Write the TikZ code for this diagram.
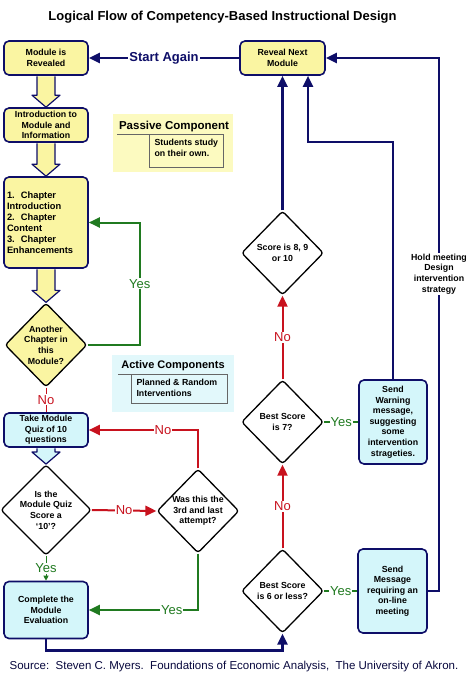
\documentclass[tikz,border=0pt]{standalone}
\usepackage{fontspec}
\setmainfont{Liberation Sans}
\usetikzlibrary{shapes.geometric,arrows.meta,calc}

\definecolor{boxyellow}{RGB}{250,245,162}
\definecolor{boxcyan}{RGB}{212,246,250}
\definecolor{paneyellow}{RGB}{252,250,192}
\definecolor{panecyan}{RGB}{226,248,251}
\definecolor{navyc}{RGB}{14,14,104}
\definecolor{redc}{RGB}{200,18,30}
\definecolor{greenc}{RGB}{32,122,32}

\tikzset{
  box/.style={draw=navyc, line width=1.6pt, rounded corners=5pt, align=center,
    font=\bfseries\fontsize{8.8}{10.6}\selectfont, inner sep=2pt},
  ybox/.style={box, fill=boxyellow},
  cbox/.style={box, fill=boxcyan},
  decision/.style={diamond, draw=black, line width=1.3pt, rounded corners=3pt,
    minimum width=82pt, minimum height=84pt, inner sep=0pt, align=center,
    font=\bfseries\fontsize{8.8}{10.6}\selectfont},
  lbl/.style={fill=white, inner sep=1pt, font=\fontsize{13}{13}\selectfont},
  tip/.style={-{Triangle[length=11pt,width=10pt]}},
  navyline/.style={draw=navyc, line width=2.4pt},
  redline/.style={draw=redc, line width=2pt, text=redc},
  greenline/.style={draw=greenc, line width=2pt, text=greenc}
}

% fat arrow between two stacked boxes
\newcommand{\blockarrow}[3]{%
  \draw[draw=navyc, fill=#3, line width=1.2pt, line join=round]
    ($(#1.south)+(-9,0.5)$) -- ($(#2.north)+(-9,-12)$) -- ($(#2.north)+(-14,-12)$)
    -- (#2.north) -- ($(#2.north)+(14,-12)$) -- ($(#2.north)+(9,-12)$)
    -- ($(#1.south)+(9,0.5)$);}

\begin{document}
\begin{tikzpicture}[x=1pt,y=-1pt]
\fill[white] (0,0) rectangle (474,679);
\useasboundingbox (0,0) rectangle (474,679);

\node (title) at (222.5,17) {\bfseries\fontsize{13}{15}\selectfont Logical Flow of Competency-Based Instructional Design};

% side panels
\fill[paneyellow] (113,114) rectangle (233,172);
\node[font=\bfseries\fontsize{11.5}{13}\selectfont] (passive) at (174,127) {Passive Component};
\draw[black!60, line width=0.8pt] (117,134) -- (223,134) -- (223,167) -- (149,167) -- (149,134);
\node[font=\bfseries\fontsize{8.8}{10.6}\selectfont, align=left, anchor=north west] (passtext) at (151,136) {Students study\\on their own.};

\fill[panecyan] (112,355) rectangle (234,412);
\node[font=\bfseries\fontsize{11}{13}\selectfont] (active) at (173,366) {Active Components};
\draw[black!60, line width=0.8pt] (118,374) -- (227,374) -- (227,403) -- (131,403) -- (131,374);
\node[font=\bfseries\fontsize{8.8}{10.6}\selectfont, align=left, anchor=north west] (acttext) at (133,376) {Planned \& Random\\Interventions};

% left column
\node[ybox, minimum width=84pt, minimum height=34pt] (mrev) at (46,58) {Module is\\Revealed};
\node[ybox, minimum width=84pt, minimum height=34pt] (intro) at (46,125) {Introduction to\\Module and\\Information};
\node[ybox, minimum width=84pt, minimum height=91pt, text width=78pt, align=left,
      font=\bfseries\fontsize{9.3}{11}\selectfont] (chap) at (46,222.5)
  {1.\ \ Chapter\\Introduction\\2.\ \ Chapter\\Content\\3.\ \ Chapter\\Enhancements};
\node[decision, fill=boxyellow] (another) at (46,345) {Another\\Chapter in\\this\\Module?};
\node[cbox, minimum width=84pt, minimum height=34pt] (quiz) at (46,430) {Take Module\\Quiz of 10\\questions};
\node[decision, fill=white] (isten) at (46,510) {Is the\\Module Quiz\\Score a\\`10'?};
\node[decision, fill=white] (last) at (198,511) {Was this the\\3rd and last\\attempt?};
\node[cbox, minimum width=84pt, minimum height=57pt] (complete) at (46,610) {Complete the\\Module\\Evaluation};

% right column
\node[ybox, minimum width=85pt, minimum height=34pt] (reveal) at (282.5,58) {Reveal Next\\Module};
\node[decision, fill=white] (score8) at (282.5,253) {Score is 8, 9\\or 10};
\node[decision, fill=white] (best7) at (282.5,422) {Best Score\\is 7?};
\node[decision, fill=white] (best6) at (282.5,591) {Best Score\\is 6 or less?};
\node[cbox, minimum width=68pt, minimum height=84pt] (sendwarn) at (393,422) {Send\\Warning\\message,\\suggesting\\some\\intervention\\strageties.};
\node[cbox, minimum width=69pt, minimum height=84pt] (sendmsg) at (392.5,591) {Send\\Message\\requiring an\\on-line\\meeting};
\node[fill=white, inner sep=1pt, align=center, font=\bfseries\fontsize{8.8}{10.6}\selectfont] (hold) at (439,274) {Hold meeting\\Design\\intervention\\strategy};
\coordinate (wbend) at (308,142);

% fat arrows
\blockarrow{mrev}{intro}{boxyellow}
\blockarrow{intro}{chap}{boxyellow}
\blockarrow{chap}{another}{boxyellow}
\blockarrow{quiz}{isten}{boxcyan}

% connectors
\draw[navyline, tip] (reveal.west) -- node[lbl, text=navyc, font=\bfseries\fontsize{13}{13}\selectfont] {Start Again} (mrev.east);
\draw[greenline, tip] (another.east) -| node[lbl, pos=0.75] {Yes} ($(chap.east)+(51,0)$) -- (chap.east);
\draw[redline, line width=1pt] (another.south) -- node[lbl, text=redc] {No} (quiz.north);
\draw[redline, tip] (isten.east) -- node[lbl] {No} (last.west);
\draw[redline, tip] (last.north) |- node[lbl, pos=0.66] {No} (quiz.east);
\draw[greenline, tip] (last.south) |- node[lbl, pos=0.62] {Yes} (complete.east);
\draw[greenline, line width=1pt, -{Triangle[length=5pt,width=5pt]}] (isten.south) -- node[lbl] {Yes} (complete.north);
\draw[navyline, tip] (complete.south) -- ++(0,11) -| (best6.south);
\draw[greenline] (best6.east) -- node[lbl] {Yes} (sendmsg.west);
\draw[greenline] (best7.east) -- node[lbl] {Yes} (sendwarn.west);
\draw[redline, tip] (best6.north) -- node[lbl] {No} (best7.south);
\draw[redline, tip] (best7.north) -- node[lbl] {No} (score8.south);
\draw[navyline, tip] (score8.north) -- (reveal.south);
\draw[navyline, tip] (sendwarn.north) |- (wbend) -- (wbend |- reveal.south);
\draw[navyline] (sendmsg.east) -| (hold.south);
\draw[navyline, tip] (hold.north) |- (reveal.east);

\node[text=navyc!60!black, font=\fontsize{11.5}{13}\selectfont] (source) at (234,667)
  {Source:\ \ Steven C. Myers.\ \ Foundations of Economic Analysis,\ \ The University of Akron.};
\end{tikzpicture}
\end{document}
